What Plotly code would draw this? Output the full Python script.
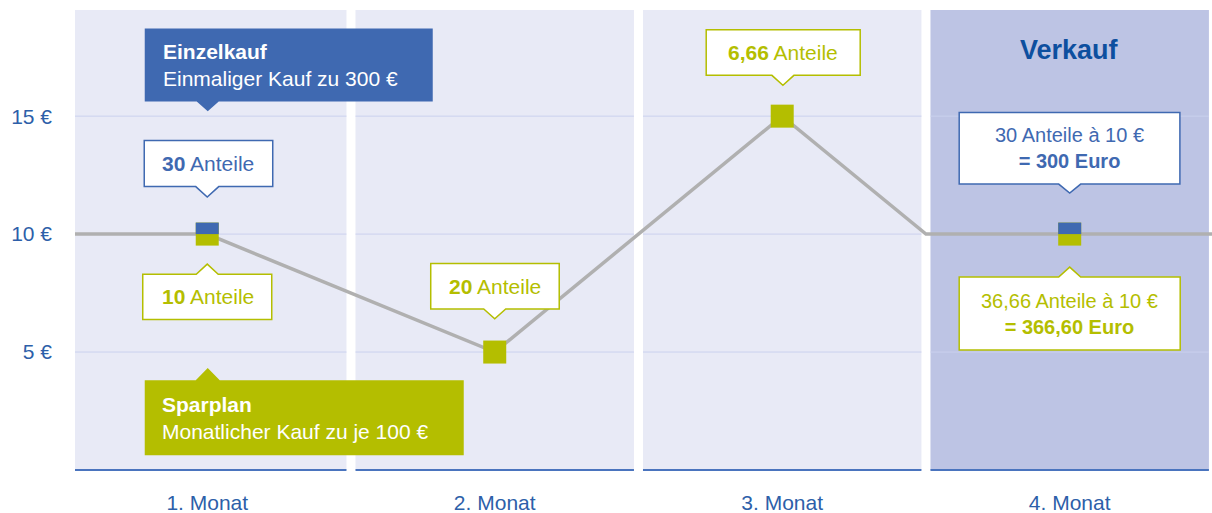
import plotly.graph_objects as go

# ---------------- data ----------------
months = [1, 2, 3, 4]
month_labels = ["1. Monat", "2. Monat", "3. Monat", "4. Monat"]
price_ticks = [5, 10, 15]
price_tick_labels = ["5 €", "10 €", "15 €"]
prices = [10, 5, 15, 10]                 # price per share at each month
line_x = [0.5, 1, 2, 3, 3.5, 4.5]        # course of the price line
line_y = [10, 10, 5, 15, 10, 10]
split_months = [1, 4]                    # months where Einzelkauf is marked too
einzelkauf_shares = "30"
sparplan_shares = ["10", "20", "6,66"]   # months 1..3
sale_price = "10"
einzelkauf_total_shares = "30"
einzelkauf_value = "300"
sparplan_total_shares = "36,66"
sparplan_value = "366,60"

# ---------------- styles ----------------
FONT = "Liberation Sans, Arial, Helvetica, sans-serif"
BLUE = "#3F69B1"
GREEN = "#B4BE00"
DARK_BLUE = "#0D4F9F"
AXIS_BLUE = "#2D5FA9"
COL_LIGHT = "#E8EAF6"
COL_SALE = "#BDC4E4"
GRID = "#CBD1EE"
LINE_GRAY = "#B0B0B0"
X_RANGE = [0.54, 4.495]
Y_RANGE = [0, 19.5]
GAP = 0.0157

fig = go.Figure()

# price line
fig.add_trace(go.Scatter(x=line_x, y=line_y, mode="lines",
                         line=dict(color=LINE_GRAY, width=3.5),
                         hoverinfo="skip", showlegend=False))
# markers (green squares)
fig.add_trace(go.Scatter(x=months, y=prices, mode="markers",
                         marker=dict(symbol="square", size=23, color=GREEN,
                                     line=dict(width=0)),
                         hoverinfo="skip", showlegend=False))

shapes = []
# column backgrounds, grid segments, bottom axis segments
for i, m in enumerate(months):
    x0 = max(m - 0.5 + GAP, X_RANGE[0])
    x1 = min(m + 0.5 - GAP, X_RANGE[1])
    color = COL_SALE if i == len(months) - 1 else COL_LIGHT
    shapes.append(dict(type="rect", xref="x", yref="paper", x0=x0, x1=x1,
                       y0=0, y1=1, fillcolor=color, line=dict(width=0),
                       layer="below"))
    for t in price_ticks:
        shapes.append(dict(type="line", xref="x", yref="y", x0=x0, x1=x1,
                           y0=t, y1=t, line=dict(color=GRID, width=1),
                           layer="below"))
    shapes.append(dict(type="line", xref="x", yref="paper", x0=x0, x1=x1,
                       y0=0, y1=0, line=dict(color="#4A74BE", width=2),
                       layer="below"))

# blue top halves of split markers
for m in split_months:
    p = prices[months.index(m)]
    shapes.append(dict(type="rect", xref="x", yref="y",
                       xsizemode="pixel", ysizemode="pixel",
                       xanchor=m, yanchor=p, x0=-11.5, x1=11.5, y0=0, y1=11.5,
                       fillcolor=BLUE, line=dict(width=0), layer="above"))


def callout(m, x0, x1, top, bottom, px, apex, hw, fill, line, lw):
    p = prices[months.index(m)]
    if apex < bottom:   # pointer below
        pts = [(x0, top), (x1, top), (x1, bottom), (px + hw, bottom),
               (px, apex), (px - hw, bottom), (x0, bottom)]
    else:               # pointer above
        pts = [(x0, bottom), (x1, bottom), (x1, top), (px + hw, top),
               (px, apex), (px - hw, top), (x0, top)]
    path = "M" + " L".join(f"{a},{b}" for a, b in pts) + " Z"
    return dict(type="path", xref="x", yref="y", xsizemode="pixel",
                ysizemode="pixel", xanchor=m, yanchor=p, path=path,
                fillcolor=fill, line=dict(color=line, width=lw),
                layer="above")


shapes += [
    callout(1, -62.5, 225.5, 205.5, 132.5, 0.5, 122.8, 11, BLUE, BLUE, 0),
    callout(1, -63, 65.5, 93.5, 47.5, 0, 37, 11.5, "white", BLUE, 1.5),
    callout(1, -64.5, 64.5, -40.2, -85.5, 0, -30, 11, "white", GREEN, 1.5),
    callout(1, -62.5, 256.5, -146.2, -221.2, 0.5, -134, 12, GREEN, GREEN, 0),
    callout(2, -64, 64.5, 88.6, 43, 0, 33.3, 11, "white", GREEN, 1.5),
    callout(3, -76, 78, 86.5, 40.8, 0.7, 30.8, 11, "white", GREEN, 1.5),
    callout(4, -110.5, 110.2, 121.7, 50, 0, 41, 11, "white", BLUE, 1.5),
    callout(4, -110.5, 110.5, -43, -116, 0, -33, 11, "white", GREEN, 1.5),
]


def label(m, dx, dy, text, color, size=21, align="center"):
    p = prices[months.index(m)]
    return dict(x=m, y=p, xref="x", yref="y", text=text, showarrow=False,
                xshift=dx, yshift=dy, xanchor="left" if align == "left" else "center",
                yanchor="middle", align=align,
                font=dict(family=FONT, size=size, color=color))


annotations = [
    label(1, -46.5, 169.5, "<b>Einzelkauf</b><br>Einmaliger Kauf zu 300 €",
          "white", align="left"),
    label(1, 1, 70.5, f"<b>{einzelkauf_shares}</b> Anteile", BLUE),
    label(1, 0.5, -62.8, f"<b>{sparplan_shares[0]}</b> Anteile", GREEN),
    label(1, -47.5, -183.5, "<b>Sparplan</b><br>Monatlicher Kauf zu je 100 €",
          "white", align="left"),
    label(2, 0.5, 65.8, f"<b>{sparplan_shares[1]}</b> Anteile", GREEN),
    label(3, 1, 63.6, f"<b>{sparplan_shares[2]}</b> Anteile", GREEN),
    label(4, 0, 86, f"{einzelkauf_total_shares} Anteile à {sale_price} €<br>"
                    f"<b>= {einzelkauf_value} Euro</b>", BLUE, size=20),
    label(4, 0, -79.5, f"{sparplan_total_shares} Anteile à {sale_price} €<br>"
                       f"<b>= {sparplan_value} Euro</b>", GREEN, size=20),
    label(4, 0, 184.5, "<b>Verkauf</b>", DARK_BLUE, size=27),
]

fig.update_layout(
    width=1212, height=513,
    margin=dict(l=75, r=0, t=10, b=43),
    paper_bgcolor="white", plot_bgcolor="white",
    font=dict(family=FONT, size=21, color=AXIS_BLUE),
    shapes=shapes, annotations=annotations, showlegend=False,
    xaxis=dict(range=X_RANGE, tickvals=months, ticktext=month_labels,
               showgrid=False, zeroline=False, showline=False, ticks="",
               ticklabelstandoff=18, fixedrange=True,
               tickfont=dict(family=FONT, size=21, color=AXIS_BLUE)),
    yaxis=dict(range=Y_RANGE, tickvals=price_ticks, ticktext=price_tick_labels,
               showgrid=False, zeroline=False, showline=False, ticks="",
               ticklabelstandoff=22, fixedrange=True,
               tickfont=dict(family=FONT, size=21, color=AXIS_BLUE)),
)

fig.write_html(
    "out.html",
    config={"displayModeBar": False},
    post_script="document.body.style.margin='0';"
                "document.body.style.overflow='hidden';",
)
